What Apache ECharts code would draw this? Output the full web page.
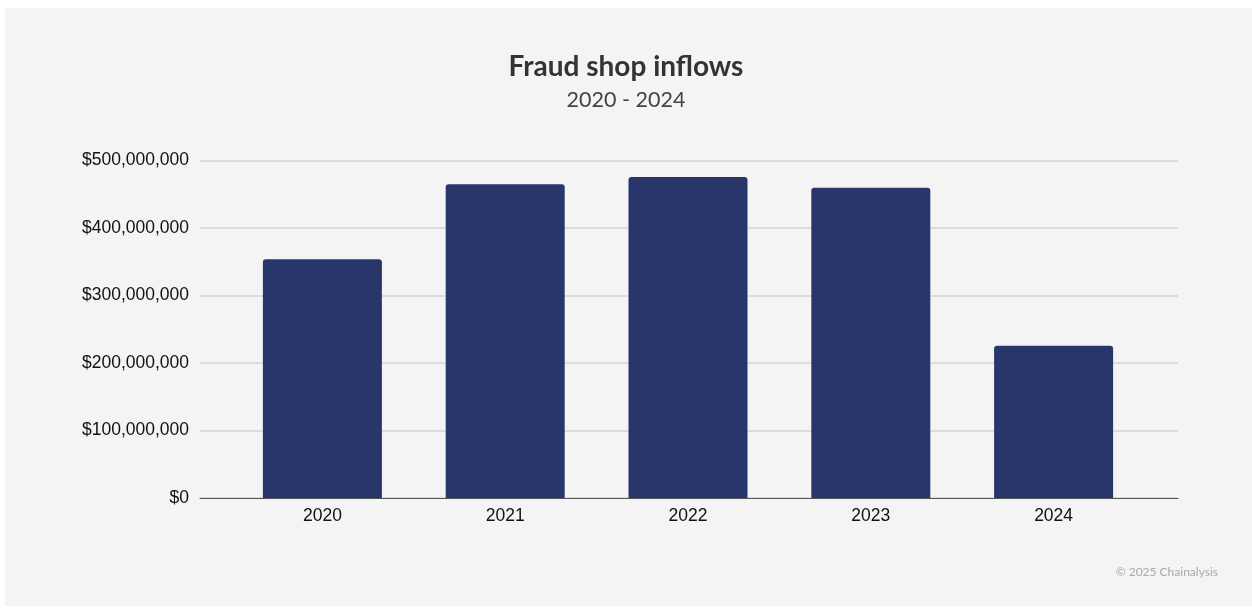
<!DOCTYPE html>
<html>
<head>
<meta charset="utf-8">
<script src="https://cdn.jsdelivr.net/npm/echarts@6/dist/echarts.min.js"></script>
<style>
  html, body { margin: 0; padding: 0; background: #ffffff; }
  #main { width: 1252px; height: 608px; }
</style>
</head>
<body>
<div id="main"></div>
<script>
// data
var years = ['2020', '2021', '2022', '2023', '2024'];
var inflows = [353600000, 464700000, 475600000, 459700000, 225600000];
var yTicks = [0, 100000000, 200000000, 300000000, 400000000, 500000000];

var yMax = yTicks[yTicks.length - 1];
var yStep = yTicks[1] - yTicks[0];

function money(v) {
  return '$' + Number(v).toLocaleString('en-US');
}

var chart = echarts.init(document.getElementById('main'));

var option = {
  backgroundColor: '#ffffff',
  animation: false,
  graphic: [
    {
      type: 'rect', z: -10, silent: true,
      shape: { x: 5, y: 8, width: 1247, height: 598 },
      style: { fill: '#f4f4f4' }
    }
  ],
  title: [
    {
      text: 'Fraud shop inflows',
      subtext: '2020 - 2024',
      left: 'center',
      top: 48,
      itemGap: 8,
      textStyle: { fontFamily: 'Lato', fontSize: 28, fontWeight: 'bold', color: '#333333' },
      subtextStyle: { fontFamily: 'Lato', fontSize: 21.5, color: '#444444' }
    },
    {
      text: '© 2025 Chainalysis',
      right: 29,
      top: 561,
      textStyle: { fontFamily: 'Lato', fontSize: 12, fontWeight: 'normal', color: '#a8a8a8' }
    }
  ],
  // grid 0: gridlines, y labels, axis line; grid 1: the bars themselves
  grid: [
    { left: 200, right: 74, top: 160.5, bottom: 110, containLabel: false },
    { left: 231, right: 107, top: 160.5, bottom: 110, containLabel: false }
  ],
  xAxis: [
    {
      type: 'category', gridIndex: 0, data: years,
      axisLine: { show: true, lineStyle: { color: '#555555', width: 1 } },
      axisTick: { show: false },
      axisLabel: { show: false },
      splitLine: { show: false }
    },
    {
      type: 'category', gridIndex: 1, data: years,
      axisLine: { show: false },
      axisTick: { show: false },
      axisLabel: { fontFamily: 'Liberation Sans', fontSize: 17.5, color: '#111111', margin: 9 }
    }
  ],
  yAxis: [
    {
      type: 'value', gridIndex: 0, min: 0, max: yMax, interval: yStep,
      axisLine: { show: false },
      axisTick: { show: false },
      axisLabel: {
        fontFamily: 'Liberation Sans', fontSize: 17.5, color: '#111111', margin: 11,
        formatter: money
      },
      splitLine: { lineStyle: { color: '#d4d4d4', width: 1.5 } }
    },
    {
      type: 'value', gridIndex: 1, min: 0, max: yMax, interval: yStep,
      show: false,
      splitLine: { show: false }
    }
  ],
  series: [
    {
      type: 'bar',
      xAxisIndex: 1,
      yAxisIndex: 1,
      data: inflows,
      barWidth: 119,
      itemStyle: { color: '#28366c', borderRadius: [3, 3, 0, 0] },
      z: 3
    }
  ]
};

chart.setOption(option);
</script>
</body>
</html>
